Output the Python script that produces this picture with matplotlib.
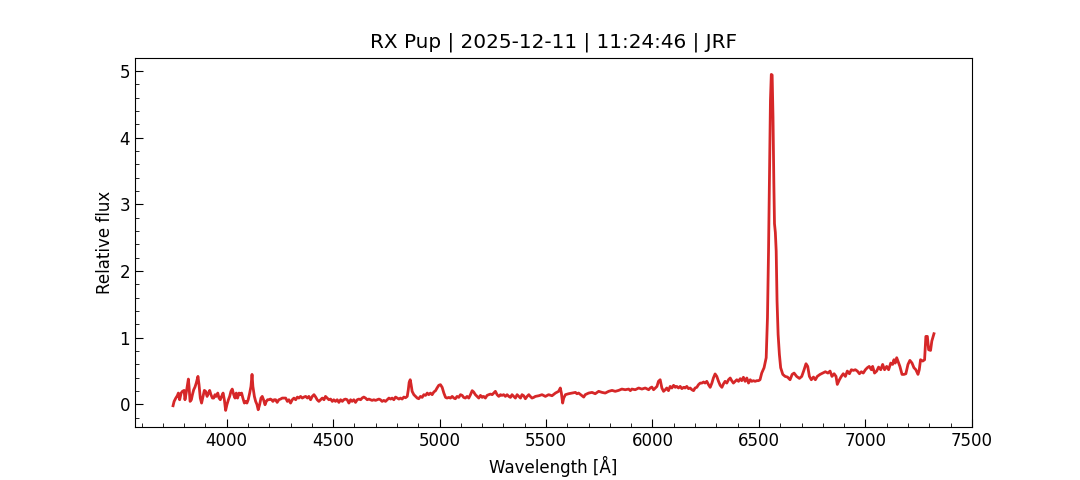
import matplotlib
matplotlib.use("Agg")
import matplotlib.pyplot as plt
from matplotlib.ticker import AutoMinorLocator

title = "RX Pup | 2025-12-11 | 11:24:46 | JRF"
x_label = "Wavelength [Å]"
y_label = "Relative flux"

wavelength = [
    3748, 3753, 3761, 3768, 3773, 3779, 3786, 3792, 3800, 3804, 3811, 3817, 3820, 3823, 3828,
    3834, 3839, 3845, 3851, 3857, 3865, 3870, 3876, 3882, 3889, 3895, 3901, 3908, 3914, 3920,
    3926, 3933, 3939, 3945, 3951, 3958, 3964, 3970, 3976, 3983, 3989, 3995, 4001, 4008, 4014,
    4020, 4026, 4033, 4039, 4045, 4051, 4058, 4064, 4070, 4076, 4083, 4089, 4095, 4101, 4108,
    4114, 4119, 4123, 4130, 4136, 4142, 4148, 4155, 4161, 4167, 4173, 4180, 4186, 4192, 4198,
    4205, 4211, 4217, 4223, 4230, 4237, 4245, 4253, 4261,
    4277, 4285, 4292, 4300, 4308, 4316, 4324, 4332, 4339, 4347, 4355, 4363, 4371, 4379, 4386,
    4394, 4402, 4410, 4418, 4425, 4433, 4441, 4449, 4457, 4464, 4472, 4480, 4488, 4496, 4503,
    4511, 4519, 4527, 4535, 4543, 4550, 4558, 4566, 4574, 4582, 4589, 4597, 4605, 4613, 4621,
    4629, 4636, 4644, 4652, 4660, 4668, 4675, 4683, 4691, 4699, 4707, 4715, 4722, 4730, 4738,
    4746, 4754, 4762, 4770, 4777, 4785, 4793, 4801, 4809, 4816, 4824, 4832, 4840, 4848, 4853,
    4857, 4862,
    4866, 4871, 4879, 4887, 4895, 4902, 4910, 4918, 4926, 4934, 4942, 4949, 4957, 4965, 4973,
    4981, 4988, 4996, 5004, 5012, 5020, 5028, 5035, 5043, 5051, 5059, 5067, 5074, 5082, 5090,
    5098, 5106, 5113, 5121, 5129, 5137, 5145, 5153, 5160, 5168, 5176, 5184, 5192, 5200, 5207,
    5215, 5223, 5231, 5239, 5247, 5254, 5262, 5270, 5278, 5286, 5293, 5301, 5309, 5317, 5325,
    5333, 5340, 5348, 5356, 5364, 5372, 5380, 5387, 5395, 5403, 5411, 5419, 5426, 5434, 5442,
    5450,
    5466, 5481, 5497, 5512, 5528, 5544, 5559, 5567, 5572, 5578, 5583, 5591, 5606, 5622, 5638,
    5645, 5653, 5669, 5677, 5684, 5700, 5716, 5731, 5747, 5763, 5778, 5794, 5810, 5825, 5841,
    5856, 5872, 5888, 5896, 5903, 5919, 5935, 5950, 5966, 5982, 5989, 5997, 6005, 6013, 6021,
    6028, 6036,
    6044, 6052, 6060, 6067, 6075, 6083, 6091, 6099, 6107, 6114, 6122, 6130, 6138, 6146, 6153,
    6161, 6169, 6177, 6185, 6193, 6200, 6208, 6216, 6224, 6232, 6240, 6247, 6255, 6263, 6271,
    6279, 6286, 6294, 6302, 6310, 6318, 6326, 6333, 6341, 6349, 6357, 6365, 6372, 6380, 6388,
    6396, 6404, 6412, 6419, 6427, 6435, 6443, 6451, 6459, 6466, 6474, 6482, 6490, 6498, 6505,
    6513, 6524, 6534, 6540, 6545, 6549, 6554, 6558, 6562, 6566, 6570, 6573, 6577, 6581, 6585,
    6590, 6596, 6602, 6612, 6623, 6634, 6646, 6656, 6665, 6677, 6690, 6701, 6712, 6721, 6729,
    6737, 6746, 6756, 6765, 6774, 6787, 6799, 6812, 6824, 6834, 6843, 6853, 6862, 6868, 6878,
    6887, 6896, 6906, 6915, 6925, 6934, 6943, 6953, 6962, 6972, 6981, 6990, 7000, 7009, 7018,
    7028, 7034, 7043, 7053, 7062, 7072, 7081, 7090, 7100, 7109, 7119, 7128, 7134, 7140, 7147,
    7156, 7162, 7172, 7181, 7190, 7200, 7209, 7219, 7228, 7237, 7247, 7253, 7259, 7269, 7278,
    7284, 7291, 7297, 7306, 7312, 7322,
]

flux = [
    -0.02, 0.045, 0.095, 0.13, 0.17, 0.07, 0.17, 0.196, 0.21, 0.07, 0.196, 0.32, 0.38, 0.27, 0.045,
    0.07, 0.146, 0.22, 0.26, 0.32, 0.42, 0.296, 0.095, 0.02, 0.12, 0.21, 0.196, 0.12, 0.17, 0.21,
    0.146, 0.095, 0.095, 0.146, 0.12, 0.17, 0.095, 0.07, 0.12, 0.17, 0.07, -0.09, -0.005, 0.07, 0.12,
    0.196, 0.23, 0.146, 0.095, 0.17, 0.095, 0.17, 0.146, 0.17, 0.095, 0.02, 0.045, 0.02, 0.07, 0.17,
    0.27, 0.45, 0.27, 0.12, 0.045, 0.0, -0.08, 0.0, 0.095, 0.12, 0.07, -0.005, 0.045, 0.07, 0.07,
    0.08, 0.07, 0.045, 0.07, 0.07, 0.03, 0.07, 0.08, 0.095,
    0.095, 0.045, 0.07, 0.02, 0.07, 0.095, 0.07, 0.11, 0.095, 0.12, 0.095, 0.11, 0.12, 0.095, 0.12,
    0.07, 0.12, 0.146, 0.11, 0.07, 0.045, 0.07, 0.095, 0.07, 0.12, 0.095, 0.07, 0.08, 0.045, 0.07,
    0.045, 0.07, 0.03, 0.07, 0.045, 0.07, 0.08, 0.07, 0.02, 0.07, 0.045, 0.07, 0.03, 0.07, 0.08,
    0.07, 0.095, 0.11, 0.095, 0.07, 0.08, 0.07, 0.06, 0.07, 0.06, 0.07, 0.08, 0.07, 0.045, 0.06,
    0.045, 0.07, 0.095, 0.08, 0.095, 0.07, 0.11, 0.095, 0.08, 0.095, 0.08, 0.11, 0.10, 0.12, 0.22,
    0.33, 0.37,
    0.30, 0.196, 0.146, 0.12, 0.095, 0.085, 0.12, 0.105, 0.146, 0.135, 0.17, 0.146, 0.17, 0.146, 0.186,
    0.206, 0.246, 0.286, 0.296, 0.256, 0.17, 0.105, 0.095, 0.105, 0.095, 0.12, 0.095, 0.085, 0.12, 0.105,
    0.146, 0.135, 0.105, 0.095, 0.12, 0.095, 0.146, 0.206, 0.186, 0.146, 0.12, 0.095, 0.135, 0.105, 0.12,
    0.095, 0.135, 0.146, 0.155, 0.146, 0.17, 0.196, 0.146, 0.12, 0.146, 0.135, 0.146, 0.12, 0.146, 0.12,
    0.105, 0.146, 0.12, 0.095, 0.146, 0.12, 0.095, 0.146, 0.13, 0.085, 0.12, 0.146, 0.12, 0.095, 0.105,
    0.12,
    0.13, 0.146, 0.12, 0.146, 0.13, 0.17, 0.196, 0.246, 0.17, 0.02, 0.095, 0.146, 0.16, 0.17, 0.18,
    0.16, 0.17, 0.13, 0.11, 0.146, 0.17, 0.18, 0.16, 0.196, 0.18, 0.17, 0.196, 0.21, 0.196, 0.21,
    0.23, 0.22, 0.23, 0.206, 0.23, 0.22, 0.246, 0.23, 0.246, 0.22, 0.246, 0.26, 0.22, 0.246, 0.27,
    0.346, 0.37,
    0.246, 0.196, 0.22, 0.246, 0.206, 0.27, 0.246, 0.286, 0.256, 0.27, 0.246, 0.27, 0.236, 0.256, 0.246,
    0.27, 0.236, 0.246, 0.22, 0.206, 0.246, 0.256, 0.296, 0.32, 0.32, 0.336, 0.32, 0.346, 0.296, 0.256,
    0.32, 0.396, 0.457, 0.42, 0.346, 0.286, 0.256, 0.306, 0.346, 0.32, 0.37, 0.396, 0.356, 0.32, 0.346,
    0.37, 0.346, 0.386, 0.356, 0.407, 0.346, 0.396, 0.32, 0.37, 0.346, 0.356, 0.346, 0.356, 0.356, 0.37,
    0.47, 0.55, 0.70, 1.30, 2.30, 3.30, 4.56, 4.95, 4.94, 4.31, 3.31, 2.71, 2.58, 2.30, 1.55,
    1.05, 0.75, 0.55, 0.45, 0.42, 0.41, 0.37, 0.45, 0.47, 0.42, 0.39, 0.42, 0.52, 0.61, 0.57,
    0.42, 0.37, 0.41, 0.37, 0.42, 0.45, 0.47, 0.49, 0.47, 0.50, 0.42, 0.46, 0.42, 0.30, 0.37,
    0.42, 0.46, 0.42, 0.50, 0.46, 0.52, 0.51, 0.52, 0.50, 0.46, 0.49, 0.47, 0.52, 0.55, 0.57,
    0.52, 0.57, 0.47, 0.50, 0.56, 0.52, 0.60, 0.52, 0.57, 0.52, 0.62, 0.60, 0.67, 0.62, 0.70,
    0.62, 0.57, 0.45, 0.45, 0.46, 0.60, 0.66, 0.62, 0.55, 0.52, 0.45, 0.52, 0.67, 0.65, 0.67,
    1.02, 1.02, 0.82, 0.81, 0.95, 1.06,
]

fig, ax = plt.subplots(figsize=(10.8, 4.8), dpi=100)
ax.plot(wavelength, flux, color="#d62728", linewidth=2)
ax.set_title(title, fontsize=14.4, pad=7)
ax.set_xlabel(x_label, fontsize=12)
ax.set_ylabel(y_label, fontsize=12)
ax.xaxis.set_minor_locator(AutoMinorLocator(5))
ax.yaxis.set_minor_locator(AutoMinorLocator(5))
ax.tick_params(which="both", direction="in", top=False, right=False, labelsize=12)
ax.tick_params(which="major", length=6)
ax.tick_params(which="minor", length=3)
fig.savefig("out.png", dpi=100)
